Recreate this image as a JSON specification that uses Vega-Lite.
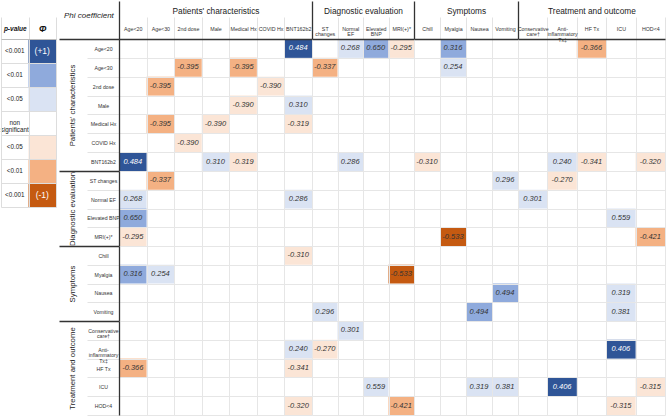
{
"$schema": "https://vega.github.io/schema/vega-lite/v6.json",
"padding": 0,
"config": {"font": "Liberation Sans", "view": {"stroke": null}, "locale": {"number": {"decimal": ".", "thousands": ",", "grouping": [3], "currency": ["$", ""], "minus": "-"}}},
"data": {"values": [
{"r":"Age<20","c":"BNT162b2","phi":0.484,"sig":"+3"},
{"r":"BNT162b2","c":"Age<20","phi":0.484,"sig":"+3"},
{"r":"Age<20","c":"Normal EF","phi":0.268,"sig":"+1"},
{"r":"Normal EF","c":"Age<20","phi":0.268,"sig":"+1"},
{"r":"Age<20","c":"Elevated BNP","phi":0.650,"sig":"+2"},
{"r":"Elevated BNP","c":"Age<20","phi":0.650,"sig":"+2"},
{"r":"Age<20","c":"MRI(+)*","phi":-0.295,"sig":"-1"},
{"r":"MRI(+)*","c":"Age<20","phi":-0.295,"sig":"-1"},
{"r":"Age<20","c":"Myalgia","phi":0.316,"sig":"+2"},
{"r":"Myalgia","c":"Age<20","phi":0.316,"sig":"+2"},
{"r":"Age<20","c":"HF Tx","phi":-0.366,"sig":"-2"},
{"r":"HF Tx","c":"Age<20","phi":-0.366,"sig":"-2"},
{"r":"Age<30","c":"2nd dose","phi":-0.395,"sig":"-2"},
{"r":"2nd dose","c":"Age<30","phi":-0.395,"sig":"-2"},
{"r":"Age<30","c":"Medical Hx","phi":-0.395,"sig":"-2"},
{"r":"Medical Hx","c":"Age<30","phi":-0.395,"sig":"-2"},
{"r":"Age<30","c":"ST changes","phi":-0.337,"sig":"-2"},
{"r":"ST changes","c":"Age<30","phi":-0.337,"sig":"-2"},
{"r":"Age<30","c":"Myalgia","phi":0.254,"sig":"+1"},
{"r":"Myalgia","c":"Age<30","phi":0.254,"sig":"+1"},
{"r":"2nd dose","c":"COVID Hx","phi":-0.390,"sig":"-1"},
{"r":"COVID Hx","c":"2nd dose","phi":-0.390,"sig":"-1"},
{"r":"Male","c":"Medical Hx","phi":-0.390,"sig":"-1"},
{"r":"Medical Hx","c":"Male","phi":-0.390,"sig":"-1"},
{"r":"Male","c":"BNT162b2","phi":0.310,"sig":"+1"},
{"r":"BNT162b2","c":"Male","phi":0.310,"sig":"+1"},
{"r":"Medical Hx","c":"BNT162b2","phi":-0.319,"sig":"-1"},
{"r":"BNT162b2","c":"Medical Hx","phi":-0.319,"sig":"-1"},
{"r":"BNT162b2","c":"Normal EF","phi":0.286,"sig":"+1"},
{"r":"Normal EF","c":"BNT162b2","phi":0.286,"sig":"+1"},
{"r":"BNT162b2","c":"Chill","phi":-0.310,"sig":"-1"},
{"r":"Chill","c":"BNT162b2","phi":-0.310,"sig":"-1"},
{"r":"BNT162b2","c":"Anti-inflammatory Tx‡","phi":0.240,"sig":"+1"},
{"r":"Anti-inflammatory Tx‡","c":"BNT162b2","phi":0.240,"sig":"+1"},
{"r":"BNT162b2","c":"HF Tx","phi":-0.341,"sig":"-1"},
{"r":"HF Tx","c":"BNT162b2","phi":-0.341,"sig":"-1"},
{"r":"BNT162b2","c":"HOD<4","phi":-0.320,"sig":"-1"},
{"r":"HOD<4","c":"BNT162b2","phi":-0.320,"sig":"-1"},
{"r":"ST changes","c":"Vomiting","phi":0.296,"sig":"+1"},
{"r":"Vomiting","c":"ST changes","phi":0.296,"sig":"+1"},
{"r":"ST changes","c":"Anti-inflammatory Tx‡","phi":-0.270,"sig":"-1"},
{"r":"Anti-inflammatory Tx‡","c":"ST changes","phi":-0.270,"sig":"-1"},
{"r":"Normal EF","c":"Conservative care†","phi":0.301,"sig":"+1"},
{"r":"Conservative care†","c":"Normal EF","phi":0.301,"sig":"+1"},
{"r":"Elevated BNP","c":"ICU","phi":0.559,"sig":"+1"},
{"r":"ICU","c":"Elevated BNP","phi":0.559,"sig":"+1"},
{"r":"MRI(+)*","c":"Myalgia","phi":-0.533,"sig":"-3"},
{"r":"Myalgia","c":"MRI(+)*","phi":-0.533,"sig":"-3"},
{"r":"MRI(+)*","c":"HOD<4","phi":-0.421,"sig":"-2"},
{"r":"HOD<4","c":"MRI(+)*","phi":-0.421,"sig":"-2"},
{"r":"Nausea","c":"Vomiting","phi":0.494,"sig":"+2"},
{"r":"Vomiting","c":"Nausea","phi":0.494,"sig":"+2"},
{"r":"Nausea","c":"ICU","phi":0.319,"sig":"+1"},
{"r":"ICU","c":"Nausea","phi":0.319,"sig":"+1"},
{"r":"Vomiting","c":"ICU","phi":0.381,"sig":"+1"},
{"r":"ICU","c":"Vomiting","phi":0.381,"sig":"+1"},
{"r":"Anti-inflammatory Tx‡","c":"ICU","phi":0.406,"sig":"+3"},
{"r":"ICU","c":"Anti-inflammatory Tx‡","phi":0.406,"sig":"+3"},
{"r":"ICU","c":"HOD<4","phi":-0.315,"sig":"-1"},
{"r":"HOD<4","c":"ICU","phi":-0.315,"sig":"-1"}
]},
"spacing": 1,
"hconcat": [
{
 "width": 55,
 "height": 168,
 "data": {"values": [
  {"sig":"+3","pv":"<0.001","sym":"(+1)"},
  {"sig":"+2","pv":"<0.01","sym":""},
  {"sig":"+1","pv":"<0.05","sym":""},
  {"sig":"ns","pv":"non significant","sym":""},
  {"sig":"-1","pv":"<0.05","sym":""},
  {"sig":"-2","pv":"<0.01","sym":""},
  {"sig":"-3","pv":"<0.001","sym":"(-1)"}
 ]},
 "encoding": {
  "y": {"field":"sig","type":"nominal","scale":{"domain":["+3","+2","+1","ns","-1","-2","-3"],"paddingInner":0,"paddingOuter":0},
        "axis":{"orient":"left","labels":false,"ticks":false,"domain":false,"title":null,"grid":true,"gridColor":"#dddddd","tickBand":"extent","minExtent":0,"maxExtent":0}}
 },
 "layer": [
  {"mark":{"type":"rect"},
   "encoding":{
    "x":{"datum":"Φ","type":"nominal","scale":{"domain":["p-value","Φ"],"paddingInner":0,"paddingOuter":0},
         "axis":{"orient":"top","title":null,"labelAngle":0,"labelFontSize":{"condition":{"test":"datum.value == 'Φ'","value":9},"value":6.5},"labelFontWeight":"bold","labelFontStyle":"italic","labelColor":"#111111","labelBaseline":"middle","labelPadding":-11,"tickBand":"extent","tickSize":22,"tickColor":"#dddddd","domainColor":"#bbbbbb","grid":true,"gridColor":"#dddddd","minExtent":22,"maxExtent":22}},
    "color":{"field":"sig","type":"nominal","scale":{"domain":["+3","+2","+1","ns","-1","-2","-3"],"range":["#2f5597","#8faadc","#dae3f3","#ffffff","#fbe5d6","#f4b183","#c55a11"]},"legend":null}}},
  {"mark":{"type":"text","fontSize":6.3,"color":"#222222","lineBreak":" ","lineHeight":6.5},
   "encoding":{"x":{"datum":"p-value","type":"nominal"},"text":{"field":"pv"}}},
  {"mark":{"type":"text","fontSize":8.5,"color":"#ffffff"},
   "encoding":{"x":{"datum":"Φ","type":"nominal"},"text":{"field":"sym"}}}
 ]
},
{
 "columns": 4,
 "spacing": 0,
 "bounds": "flush",
 "concat": [
   {"title":{"text":"Phi coefficient","anchor":"start","frame":"group","dx":-55,"offset":-20,"fontSize":8,"fontStyle":"italic","fontWeight":"normal","color":"#222222"},
    "width":193,"height":132,
    "transform":[{"filter":{"field":"r","oneOf":["Age<20","Age<30","2nd dose","Male","Medical Hx","COVID Hx","BNT162b2"]}},{"filter":{"field":"c","oneOf":["Age<20","Age<30","2nd dose","Male","Medical Hx","COVID Hx","BNT162b2"]}}],
    "encoding":{
     "x":{"field":"c","type":"nominal","scale":{"domain":["Age<20","Age<30","2nd dose","Male","Medical Hx","COVID Hx","BNT162b2"],"paddingInner":0,"paddingOuter":0},
          "axis":{"orient":"top","title":"Patients' characteristics","titleFontSize":8.3,"titleFontWeight":"normal","titleColor":"#222222","titlePadding":2,"labelAngle":0,"labelFontSize":5.3,"labelColor":"#333333","labelBaseline":"middle","labelLineHeight":5.6,"labelOverlap":false,"labelPadding":-11,"labelExpr":"datum.value == 'ST changes' ? ['ST','changes'] : datum.value == 'Normal EF' ? ['Normal','EF'] : datum.value == 'Elevated BNP' ? ['Elevated','BNP'] : datum.value == 'Conservative care†' ? ['Conservative','care†'] : datum.value == 'Anti-inflammatory Tx‡' ? ['Anti-','inflammatory','Tx‡'] : datum.label","tickBand":"extent","tickSize":{"condition":{"test":"datum.extra","value":38},"value":22},"tickColor":{"condition":{"test":"datum.extra","value":"#333333"},"value":"#e3e3e3"},"tickWidth":{"condition":{"test":"datum.extra","value":1.3},"value":1},"domainColor":"#333333","domainWidth":1.3,"grid":true,"gridColor":"#e6e6e6","minExtent":22,"maxExtent":22,"zindex":1}},
     "y":{"field":"r","type":"nominal","scale":{"domain":["Age<20","Age<30","2nd dose","Male","Medical Hx","COVID Hx","BNT162b2"],"paddingInner":0,"paddingOuter":0},
          "axis":{"orient":"left","title":"Patients' characteristics","titleFontSize":7.8,"titleFontWeight":"normal","titleColor":"#222222","titlePadding":11,"labelFontSize":5.2,"labelColor":"#333333","labelAlign":"center","labelBaseline":"middle","labelLineHeight":5.6,"labelOverlap":false,"labelPadding":-16,"labelExpr":"datum.value == 'Conservative care†' ? ['Conservative','care†'] : datum.value == 'Anti-inflammatory Tx‡' ? ['Anti-','inflammatory','Tx‡'] : datum.label","tickBand":"extent","tickSize":{"condition":{"test":"datum.extra","value":60},"value":32},"tickColor":{"condition":{"test":"datum.extra","value":"#333333"},"value":"#e3e3e3"},"tickWidth":{"condition":{"test":"datum.extra","value":1.3},"value":1},"domainColor":"#333333","domainWidth":1.3,"grid":true,"gridColor":"#e6e6e6","minExtent":32,"maxExtent":32,"zindex":1}}
    },
    "layer":[
     {"mark":{"type":"rect"},"encoding":{"color":{"field":"sig","type":"nominal","scale":{"domain":["+3","+2","+1","ns","-1","-2","-3"],"range":["#2f5597","#8faadc","#dae3f3","#ffffff","#fbe5d6","#f4b183","#c55a11"]},"legend":null}}},
     {"mark":{"type":"text","fontSize":7.5,"fontStyle":"italic"},"encoding":{"text":{"field":"phi","type":"quantitative","format":".3f"},"color":{"condition":{"test":"datum.sig == '+3'","value":"#ffffff"},"value":"#333333"}}}
    ]},
   {"width":102,"height":132,
    "transform":[{"filter":{"field":"r","oneOf":["Age<20","Age<30","2nd dose","Male","Medical Hx","COVID Hx","BNT162b2"]}},{"filter":{"field":"c","oneOf":["ST changes","Normal EF","Elevated BNP","MRI(+)*"]}}],
    "encoding":{
     "x":{"field":"c","type":"nominal","scale":{"domain":["ST changes","Normal EF","Elevated BNP","MRI(+)*"],"paddingInner":0,"paddingOuter":0},
          "axis":{"orient":"top","title":"Diagnostic evaluation","titleFontSize":8.3,"titleFontWeight":"normal","titleColor":"#222222","titlePadding":2,"labelAngle":0,"labelFontSize":5.3,"labelColor":"#333333","labelBaseline":"middle","labelLineHeight":5.6,"labelOverlap":false,"labelPadding":-11,"labelExpr":"datum.value == 'ST changes' ? ['ST','changes'] : datum.value == 'Normal EF' ? ['Normal','EF'] : datum.value == 'Elevated BNP' ? ['Elevated','BNP'] : datum.value == 'Conservative care†' ? ['Conservative','care†'] : datum.value == 'Anti-inflammatory Tx‡' ? ['Anti-','inflammatory','Tx‡'] : datum.label","tickBand":"extent","tickSize":{"condition":{"test":"datum.extra","value":38},"value":22},"tickColor":{"condition":{"test":"datum.extra","value":"#333333"},"value":"#e3e3e3"},"tickWidth":{"condition":{"test":"datum.extra","value":1.3},"value":1},"domainColor":"#333333","domainWidth":1.3,"grid":true,"gridColor":"#e6e6e6","minExtent":22,"maxExtent":22,"zindex":1}},
     "y":{"field":"r","type":"nominal","scale":{"domain":["Age<20","Age<30","2nd dose","Male","Medical Hx","COVID Hx","BNT162b2"],"paddingInner":0,"paddingOuter":0},
          "axis":{"orient":"left","labels":false,"ticks":false,"domain":false,"title":null,"grid":true,"gridColor":"#e6e6e6","tickBand":"extent","minExtent":0,"maxExtent":0,"zindex":1}}
    },
    "layer":[
     {"mark":{"type":"rect"},"encoding":{"color":{"field":"sig","type":"nominal","scale":{"domain":["+3","+2","+1","ns","-1","-2","-3"],"range":["#2f5597","#8faadc","#dae3f3","#ffffff","#fbe5d6","#f4b183","#c55a11"]},"legend":null}}},
     {"mark":{"type":"text","fontSize":7.5,"fontStyle":"italic"},"encoding":{"text":{"field":"phi","type":"quantitative","format":".3f"},"color":{"condition":{"test":"datum.sig == '+3'","value":"#ffffff"},"value":"#333333"}}}
    ]},
   {"width":104,"height":132,
    "transform":[{"filter":{"field":"r","oneOf":["Age<20","Age<30","2nd dose","Male","Medical Hx","COVID Hx","BNT162b2"]}},{"filter":{"field":"c","oneOf":["Chill","Myalgia","Nausea","Vomiting"]}}],
    "encoding":{
     "x":{"field":"c","type":"nominal","scale":{"domain":["Chill","Myalgia","Nausea","Vomiting"],"paddingInner":0,"paddingOuter":0},
          "axis":{"orient":"top","title":"Symptoms","titleFontSize":8.3,"titleFontWeight":"normal","titleColor":"#222222","titlePadding":2,"labelAngle":0,"labelFontSize":5.3,"labelColor":"#333333","labelBaseline":"middle","labelLineHeight":5.6,"labelOverlap":false,"labelPadding":-11,"labelExpr":"datum.value == 'ST changes' ? ['ST','changes'] : datum.value == 'Normal EF' ? ['Normal','EF'] : datum.value == 'Elevated BNP' ? ['Elevated','BNP'] : datum.value == 'Conservative care†' ? ['Conservative','care†'] : datum.value == 'Anti-inflammatory Tx‡' ? ['Anti-','inflammatory','Tx‡'] : datum.label","tickBand":"extent","tickSize":{"condition":{"test":"datum.extra","value":38},"value":22},"tickColor":{"condition":{"test":"datum.extra","value":"#333333"},"value":"#e3e3e3"},"tickWidth":{"condition":{"test":"datum.extra","value":1.3},"value":1},"domainColor":"#333333","domainWidth":1.3,"grid":true,"gridColor":"#e6e6e6","minExtent":22,"maxExtent":22,"zindex":1}},
     "y":{"field":"r","type":"nominal","scale":{"domain":["Age<20","Age<30","2nd dose","Male","Medical Hx","COVID Hx","BNT162b2"],"paddingInner":0,"paddingOuter":0},
          "axis":{"orient":"left","labels":false,"ticks":false,"domain":false,"title":null,"grid":true,"gridColor":"#e6e6e6","tickBand":"extent","minExtent":0,"maxExtent":0,"zindex":1}}
    },
    "layer":[
     {"mark":{"type":"rect"},"encoding":{"color":{"field":"sig","type":"nominal","scale":{"domain":["+3","+2","+1","ns","-1","-2","-3"],"range":["#2f5597","#8faadc","#dae3f3","#ffffff","#fbe5d6","#f4b183","#c55a11"]},"legend":null}}},
     {"mark":{"type":"text","fontSize":7.5,"fontStyle":"italic"},"encoding":{"text":{"field":"phi","type":"quantitative","format":".3f"},"color":{"condition":{"test":"datum.sig == '+3'","value":"#ffffff"},"value":"#333333"}}}
    ]},
   {"width":147,"height":132,
    "transform":[{"filter":{"field":"r","oneOf":["Age<20","Age<30","2nd dose","Male","Medical Hx","COVID Hx","BNT162b2"]}},{"filter":{"field":"c","oneOf":["Conservative care†","Anti-inflammatory Tx‡","HF Tx","ICU","HOD<4"]}}],
    "encoding":{
     "x":{"field":"c","type":"nominal","scale":{"domain":["Conservative care†","Anti-inflammatory Tx‡","HF Tx","ICU","HOD<4"],"paddingInner":0,"paddingOuter":0},
          "axis":{"orient":"top","title":"Treatment and outcome","titleFontSize":8.3,"titleFontWeight":"normal","titleColor":"#222222","titlePadding":2,"labelAngle":0,"labelFontSize":5.3,"labelColor":"#333333","labelBaseline":"middle","labelLineHeight":5.6,"labelOverlap":false,"labelPadding":-11,"labelExpr":"datum.value == 'ST changes' ? ['ST','changes'] : datum.value == 'Normal EF' ? ['Normal','EF'] : datum.value == 'Elevated BNP' ? ['Elevated','BNP'] : datum.value == 'Conservative care†' ? ['Conservative','care†'] : datum.value == 'Anti-inflammatory Tx‡' ? ['Anti-','inflammatory','Tx‡'] : datum.label","tickBand":"extent","tickSize":{"condition":{"test":"datum.extra","value":38},"value":22},"tickColor":{"condition":{"test":"datum.extra","value":"#333333"},"value":"#e3e3e3"},"tickWidth":{"condition":{"test":"datum.extra","value":1.3},"value":1},"domainColor":"#333333","domainWidth":1.3,"grid":true,"gridColor":"#e6e6e6","minExtent":22,"maxExtent":22,"zindex":1}},
     "y":{"field":"r","type":"nominal","scale":{"domain":["Age<20","Age<30","2nd dose","Male","Medical Hx","COVID Hx","BNT162b2"],"paddingInner":0,"paddingOuter":0},
          "axis":{"orient":"left","labels":false,"ticks":false,"domain":false,"title":null,"grid":true,"gridColor":"#e6e6e6","tickBand":"extent","minExtent":0,"maxExtent":0,"zindex":1}}
    },
    "layer":[
     {"mark":{"type":"rect"},"encoding":{"color":{"field":"sig","type":"nominal","scale":{"domain":["+3","+2","+1","ns","-1","-2","-3"],"range":["#2f5597","#8faadc","#dae3f3","#ffffff","#fbe5d6","#f4b183","#c55a11"]},"legend":null}}},
     {"mark":{"type":"text","fontSize":7.5,"fontStyle":"italic"},"encoding":{"text":{"field":"phi","type":"quantitative","format":".3f"},"color":{"condition":{"test":"datum.sig == '+3'","value":"#ffffff"},"value":"#333333"}}}
    ]},
   {"width":193,"height":75,
    "transform":[{"filter":{"field":"r","oneOf":["ST changes","Normal EF","Elevated BNP","MRI(+)*"]}},{"filter":{"field":"c","oneOf":["Age<20","Age<30","2nd dose","Male","Medical Hx","COVID Hx","BNT162b2"]}}],
    "encoding":{
     "x":{"field":"c","type":"nominal","scale":{"domain":["Age<20","Age<30","2nd dose","Male","Medical Hx","COVID Hx","BNT162b2"],"paddingInner":0,"paddingOuter":0},
          "axis":{"orient":"top","labels":false,"ticks":false,"domain":false,"title":null,"grid":true,"gridColor":"#e6e6e6","tickBand":"extent","minExtent":0,"maxExtent":0,"zindex":1}},
     "y":{"field":"r","type":"nominal","scale":{"domain":["ST changes","Normal EF","Elevated BNP","MRI(+)*"],"paddingInner":0,"paddingOuter":0},
          "axis":{"orient":"left","title":"Diagnostic evaluation","titleFontSize":7.8,"titleFontWeight":"normal","titleColor":"#222222","titlePadding":11,"labelFontSize":5.2,"labelColor":"#333333","labelAlign":"center","labelBaseline":"middle","labelLineHeight":5.6,"labelOverlap":false,"labelPadding":-16,"labelExpr":"datum.value == 'Conservative care†' ? ['Conservative','care†'] : datum.value == 'Anti-inflammatory Tx‡' ? ['Anti-','inflammatory','Tx‡'] : datum.label","tickBand":"extent","tickSize":{"condition":{"test":"datum.extra","value":60},"value":32},"tickColor":{"condition":{"test":"datum.extra","value":"#333333"},"value":"#e3e3e3"},"tickWidth":{"condition":{"test":"datum.extra","value":1.3},"value":1},"domainColor":"#333333","domainWidth":1.3,"grid":true,"gridColor":"#e6e6e6","minExtent":32,"maxExtent":32,"zindex":1}}
    },
    "layer":[
     {"mark":{"type":"rect"},"encoding":{"color":{"field":"sig","type":"nominal","scale":{"domain":["+3","+2","+1","ns","-1","-2","-3"],"range":["#2f5597","#8faadc","#dae3f3","#ffffff","#fbe5d6","#f4b183","#c55a11"]},"legend":null}}},
     {"mark":{"type":"text","fontSize":7.5,"fontStyle":"italic"},"encoding":{"text":{"field":"phi","type":"quantitative","format":".3f"},"color":{"condition":{"test":"datum.sig == '+3'","value":"#ffffff"},"value":"#333333"}}}
    ]},
   {"width":102,"height":75,
    "transform":[{"filter":{"field":"r","oneOf":["ST changes","Normal EF","Elevated BNP","MRI(+)*"]}},{"filter":{"field":"c","oneOf":["ST changes","Normal EF","Elevated BNP","MRI(+)*"]}}],
    "encoding":{
     "x":{"field":"c","type":"nominal","scale":{"domain":["ST changes","Normal EF","Elevated BNP","MRI(+)*"],"paddingInner":0,"paddingOuter":0},
          "axis":{"orient":"top","labels":false,"ticks":false,"domain":false,"title":null,"grid":true,"gridColor":"#e6e6e6","tickBand":"extent","minExtent":0,"maxExtent":0,"zindex":1}},
     "y":{"field":"r","type":"nominal","scale":{"domain":["ST changes","Normal EF","Elevated BNP","MRI(+)*"],"paddingInner":0,"paddingOuter":0},
          "axis":{"orient":"left","labels":false,"ticks":false,"domain":false,"title":null,"grid":true,"gridColor":"#e6e6e6","tickBand":"extent","minExtent":0,"maxExtent":0,"zindex":1}}
    },
    "layer":[
     {"mark":{"type":"rect"},"encoding":{"color":{"field":"sig","type":"nominal","scale":{"domain":["+3","+2","+1","ns","-1","-2","-3"],"range":["#2f5597","#8faadc","#dae3f3","#ffffff","#fbe5d6","#f4b183","#c55a11"]},"legend":null}}},
     {"mark":{"type":"text","fontSize":7.5,"fontStyle":"italic"},"encoding":{"text":{"field":"phi","type":"quantitative","format":".3f"},"color":{"condition":{"test":"datum.sig == '+3'","value":"#ffffff"},"value":"#333333"}}}
    ]},
   {"width":104,"height":75,
    "transform":[{"filter":{"field":"r","oneOf":["ST changes","Normal EF","Elevated BNP","MRI(+)*"]}},{"filter":{"field":"c","oneOf":["Chill","Myalgia","Nausea","Vomiting"]}}],
    "encoding":{
     "x":{"field":"c","type":"nominal","scale":{"domain":["Chill","Myalgia","Nausea","Vomiting"],"paddingInner":0,"paddingOuter":0},
          "axis":{"orient":"top","labels":false,"ticks":false,"domain":false,"title":null,"grid":true,"gridColor":"#e6e6e6","tickBand":"extent","minExtent":0,"maxExtent":0,"zindex":1}},
     "y":{"field":"r","type":"nominal","scale":{"domain":["ST changes","Normal EF","Elevated BNP","MRI(+)*"],"paddingInner":0,"paddingOuter":0},
          "axis":{"orient":"left","labels":false,"ticks":false,"domain":false,"title":null,"grid":true,"gridColor":"#e6e6e6","tickBand":"extent","minExtent":0,"maxExtent":0,"zindex":1}}
    },
    "layer":[
     {"mark":{"type":"rect"},"encoding":{"color":{"field":"sig","type":"nominal","scale":{"domain":["+3","+2","+1","ns","-1","-2","-3"],"range":["#2f5597","#8faadc","#dae3f3","#ffffff","#fbe5d6","#f4b183","#c55a11"]},"legend":null}}},
     {"mark":{"type":"text","fontSize":7.5,"fontStyle":"italic"},"encoding":{"text":{"field":"phi","type":"quantitative","format":".3f"},"color":{"condition":{"test":"datum.sig == '+3'","value":"#ffffff"},"value":"#333333"}}}
    ]},
   {"width":147,"height":75,
    "transform":[{"filter":{"field":"r","oneOf":["ST changes","Normal EF","Elevated BNP","MRI(+)*"]}},{"filter":{"field":"c","oneOf":["Conservative care†","Anti-inflammatory Tx‡","HF Tx","ICU","HOD<4"]}}],
    "encoding":{
     "x":{"field":"c","type":"nominal","scale":{"domain":["Conservative care†","Anti-inflammatory Tx‡","HF Tx","ICU","HOD<4"],"paddingInner":0,"paddingOuter":0},
          "axis":{"orient":"top","labels":false,"ticks":false,"domain":false,"title":null,"grid":true,"gridColor":"#e6e6e6","tickBand":"extent","minExtent":0,"maxExtent":0,"zindex":1}},
     "y":{"field":"r","type":"nominal","scale":{"domain":["ST changes","Normal EF","Elevated BNP","MRI(+)*"],"paddingInner":0,"paddingOuter":0},
          "axis":{"orient":"left","labels":false,"ticks":false,"domain":false,"title":null,"grid":true,"gridColor":"#e6e6e6","tickBand":"extent","minExtent":0,"maxExtent":0,"zindex":1}}
    },
    "layer":[
     {"mark":{"type":"rect"},"encoding":{"color":{"field":"sig","type":"nominal","scale":{"domain":["+3","+2","+1","ns","-1","-2","-3"],"range":["#2f5597","#8faadc","#dae3f3","#ffffff","#fbe5d6","#f4b183","#c55a11"]},"legend":null}}},
     {"mark":{"type":"text","fontSize":7.5,"fontStyle":"italic"},"encoding":{"text":{"field":"phi","type":"quantitative","format":".3f"},"color":{"condition":{"test":"datum.sig == '+3'","value":"#ffffff"},"value":"#333333"}}}
    ]},
   {"width":193,"height":75,
    "transform":[{"filter":{"field":"r","oneOf":["Chill","Myalgia","Nausea","Vomiting"]}},{"filter":{"field":"c","oneOf":["Age<20","Age<30","2nd dose","Male","Medical Hx","COVID Hx","BNT162b2"]}}],
    "encoding":{
     "x":{"field":"c","type":"nominal","scale":{"domain":["Age<20","Age<30","2nd dose","Male","Medical Hx","COVID Hx","BNT162b2"],"paddingInner":0,"paddingOuter":0},
          "axis":{"orient":"top","labels":false,"ticks":false,"domain":false,"title":null,"grid":true,"gridColor":"#e6e6e6","tickBand":"extent","minExtent":0,"maxExtent":0,"zindex":1}},
     "y":{"field":"r","type":"nominal","scale":{"domain":["Chill","Myalgia","Nausea","Vomiting"],"paddingInner":0,"paddingOuter":0},
          "axis":{"orient":"left","title":"Symptoms","titleFontSize":7.8,"titleFontWeight":"normal","titleColor":"#222222","titlePadding":11,"labelFontSize":5.2,"labelColor":"#333333","labelAlign":"center","labelBaseline":"middle","labelLineHeight":5.6,"labelOverlap":false,"labelPadding":-16,"labelExpr":"datum.value == 'Conservative care†' ? ['Conservative','care†'] : datum.value == 'Anti-inflammatory Tx‡' ? ['Anti-','inflammatory','Tx‡'] : datum.label","tickBand":"extent","tickSize":{"condition":{"test":"datum.extra","value":60},"value":32},"tickColor":{"condition":{"test":"datum.extra","value":"#333333"},"value":"#e3e3e3"},"tickWidth":{"condition":{"test":"datum.extra","value":1.3},"value":1},"domainColor":"#333333","domainWidth":1.3,"grid":true,"gridColor":"#e6e6e6","minExtent":32,"maxExtent":32,"zindex":1}}
    },
    "layer":[
     {"mark":{"type":"rect"},"encoding":{"color":{"field":"sig","type":"nominal","scale":{"domain":["+3","+2","+1","ns","-1","-2","-3"],"range":["#2f5597","#8faadc","#dae3f3","#ffffff","#fbe5d6","#f4b183","#c55a11"]},"legend":null}}},
     {"mark":{"type":"text","fontSize":7.5,"fontStyle":"italic"},"encoding":{"text":{"field":"phi","type":"quantitative","format":".3f"},"color":{"condition":{"test":"datum.sig == '+3'","value":"#ffffff"},"value":"#333333"}}}
    ]},
   {"width":102,"height":75,
    "transform":[{"filter":{"field":"r","oneOf":["Chill","Myalgia","Nausea","Vomiting"]}},{"filter":{"field":"c","oneOf":["ST changes","Normal EF","Elevated BNP","MRI(+)*"]}}],
    "encoding":{
     "x":{"field":"c","type":"nominal","scale":{"domain":["ST changes","Normal EF","Elevated BNP","MRI(+)*"],"paddingInner":0,"paddingOuter":0},
          "axis":{"orient":"top","labels":false,"ticks":false,"domain":false,"title":null,"grid":true,"gridColor":"#e6e6e6","tickBand":"extent","minExtent":0,"maxExtent":0,"zindex":1}},
     "y":{"field":"r","type":"nominal","scale":{"domain":["Chill","Myalgia","Nausea","Vomiting"],"paddingInner":0,"paddingOuter":0},
          "axis":{"orient":"left","labels":false,"ticks":false,"domain":false,"title":null,"grid":true,"gridColor":"#e6e6e6","tickBand":"extent","minExtent":0,"maxExtent":0,"zindex":1}}
    },
    "layer":[
     {"mark":{"type":"rect"},"encoding":{"color":{"field":"sig","type":"nominal","scale":{"domain":["+3","+2","+1","ns","-1","-2","-3"],"range":["#2f5597","#8faadc","#dae3f3","#ffffff","#fbe5d6","#f4b183","#c55a11"]},"legend":null}}},
     {"mark":{"type":"text","fontSize":7.5,"fontStyle":"italic"},"encoding":{"text":{"field":"phi","type":"quantitative","format":".3f"},"color":{"condition":{"test":"datum.sig == '+3'","value":"#ffffff"},"value":"#333333"}}}
    ]},
   {"width":104,"height":75,
    "transform":[{"filter":{"field":"r","oneOf":["Chill","Myalgia","Nausea","Vomiting"]}},{"filter":{"field":"c","oneOf":["Chill","Myalgia","Nausea","Vomiting"]}}],
    "encoding":{
     "x":{"field":"c","type":"nominal","scale":{"domain":["Chill","Myalgia","Nausea","Vomiting"],"paddingInner":0,"paddingOuter":0},
          "axis":{"orient":"top","labels":false,"ticks":false,"domain":false,"title":null,"grid":true,"gridColor":"#e6e6e6","tickBand":"extent","minExtent":0,"maxExtent":0,"zindex":1}},
     "y":{"field":"r","type":"nominal","scale":{"domain":["Chill","Myalgia","Nausea","Vomiting"],"paddingInner":0,"paddingOuter":0},
          "axis":{"orient":"left","labels":false,"ticks":false,"domain":false,"title":null,"grid":true,"gridColor":"#e6e6e6","tickBand":"extent","minExtent":0,"maxExtent":0,"zindex":1}}
    },
    "layer":[
     {"mark":{"type":"rect"},"encoding":{"color":{"field":"sig","type":"nominal","scale":{"domain":["+3","+2","+1","ns","-1","-2","-3"],"range":["#2f5597","#8faadc","#dae3f3","#ffffff","#fbe5d6","#f4b183","#c55a11"]},"legend":null}}},
     {"mark":{"type":"text","fontSize":7.5,"fontStyle":"italic"},"encoding":{"text":{"field":"phi","type":"quantitative","format":".3f"},"color":{"condition":{"test":"datum.sig == '+3'","value":"#ffffff"},"value":"#333333"}}}
    ]},
   {"width":147,"height":75,
    "transform":[{"filter":{"field":"r","oneOf":["Chill","Myalgia","Nausea","Vomiting"]}},{"filter":{"field":"c","oneOf":["Conservative care†","Anti-inflammatory Tx‡","HF Tx","ICU","HOD<4"]}}],
    "encoding":{
     "x":{"field":"c","type":"nominal","scale":{"domain":["Conservative care†","Anti-inflammatory Tx‡","HF Tx","ICU","HOD<4"],"paddingInner":0,"paddingOuter":0},
          "axis":{"orient":"top","labels":false,"ticks":false,"domain":false,"title":null,"grid":true,"gridColor":"#e6e6e6","tickBand":"extent","minExtent":0,"maxExtent":0,"zindex":1}},
     "y":{"field":"r","type":"nominal","scale":{"domain":["Chill","Myalgia","Nausea","Vomiting"],"paddingInner":0,"paddingOuter":0},
          "axis":{"orient":"left","labels":false,"ticks":false,"domain":false,"title":null,"grid":true,"gridColor":"#e6e6e6","tickBand":"extent","minExtent":0,"maxExtent":0,"zindex":1}}
    },
    "layer":[
     {"mark":{"type":"rect"},"encoding":{"color":{"field":"sig","type":"nominal","scale":{"domain":["+3","+2","+1","ns","-1","-2","-3"],"range":["#2f5597","#8faadc","#dae3f3","#ffffff","#fbe5d6","#f4b183","#c55a11"]},"legend":null}}},
     {"mark":{"type":"text","fontSize":7.5,"fontStyle":"italic"},"encoding":{"text":{"field":"phi","type":"quantitative","format":".3f"},"color":{"condition":{"test":"datum.sig == '+3'","value":"#ffffff"},"value":"#333333"}}}
    ]},
   {"width":193,"height":94,
    "transform":[{"filter":{"field":"r","oneOf":["Conservative care†","Anti-inflammatory Tx‡","HF Tx","ICU","HOD<4"]}},{"filter":{"field":"c","oneOf":["Age<20","Age<30","2nd dose","Male","Medical Hx","COVID Hx","BNT162b2"]}}],
    "encoding":{
     "x":{"field":"c","type":"nominal","scale":{"domain":["Age<20","Age<30","2nd dose","Male","Medical Hx","COVID Hx","BNT162b2"],"paddingInner":0,"paddingOuter":0},
          "axis":{"orient":"top","labels":false,"ticks":false,"domain":false,"title":null,"grid":true,"gridColor":"#e6e6e6","tickBand":"extent","minExtent":0,"maxExtent":0,"zindex":1}},
     "y":{"field":"r","type":"nominal","scale":{"domain":["Conservative care†","Anti-inflammatory Tx‡","HF Tx","ICU","HOD<4"],"paddingInner":0,"paddingOuter":0},
          "axis":{"orient":"left","title":"Treatment and outcome","titleFontSize":7.8,"titleFontWeight":"normal","titleColor":"#222222","titlePadding":11,"labelFontSize":5.2,"labelColor":"#333333","labelAlign":"center","labelBaseline":"middle","labelLineHeight":5.6,"labelOverlap":false,"labelPadding":-16,"labelExpr":"datum.value == 'Conservative care†' ? ['Conservative','care†'] : datum.value == 'Anti-inflammatory Tx‡' ? ['Anti-','inflammatory','Tx‡'] : datum.label","tickBand":"extent","tickSize":{"condition":{"test":"datum.extra","value":60},"value":32},"tickColor":{"condition":{"test":"datum.extra","value":"#333333"},"value":"#e3e3e3"},"tickWidth":{"condition":{"test":"datum.extra","value":1.3},"value":1},"domainColor":"#333333","domainWidth":1.3,"grid":true,"gridColor":"#e6e6e6","minExtent":32,"maxExtent":32,"zindex":1}}
    },
    "layer":[
     {"mark":{"type":"rect"},"encoding":{"color":{"field":"sig","type":"nominal","scale":{"domain":["+3","+2","+1","ns","-1","-2","-3"],"range":["#2f5597","#8faadc","#dae3f3","#ffffff","#fbe5d6","#f4b183","#c55a11"]},"legend":null}}},
     {"mark":{"type":"text","fontSize":7.5,"fontStyle":"italic"},"encoding":{"text":{"field":"phi","type":"quantitative","format":".3f"},"color":{"condition":{"test":"datum.sig == '+3'","value":"#ffffff"},"value":"#333333"}}}
    ]},
   {"width":102,"height":94,
    "transform":[{"filter":{"field":"r","oneOf":["Conservative care†","Anti-inflammatory Tx‡","HF Tx","ICU","HOD<4"]}},{"filter":{"field":"c","oneOf":["ST changes","Normal EF","Elevated BNP","MRI(+)*"]}}],
    "encoding":{
     "x":{"field":"c","type":"nominal","scale":{"domain":["ST changes","Normal EF","Elevated BNP","MRI(+)*"],"paddingInner":0,"paddingOuter":0},
          "axis":{"orient":"top","labels":false,"ticks":false,"domain":false,"title":null,"grid":true,"gridColor":"#e6e6e6","tickBand":"extent","minExtent":0,"maxExtent":0,"zindex":1}},
     "y":{"field":"r","type":"nominal","scale":{"domain":["Conservative care†","Anti-inflammatory Tx‡","HF Tx","ICU","HOD<4"],"paddingInner":0,"paddingOuter":0},
          "axis":{"orient":"left","labels":false,"ticks":false,"domain":false,"title":null,"grid":true,"gridColor":"#e6e6e6","tickBand":"extent","minExtent":0,"maxExtent":0,"zindex":1}}
    },
    "layer":[
     {"mark":{"type":"rect"},"encoding":{"color":{"field":"sig","type":"nominal","scale":{"domain":["+3","+2","+1","ns","-1","-2","-3"],"range":["#2f5597","#8faadc","#dae3f3","#ffffff","#fbe5d6","#f4b183","#c55a11"]},"legend":null}}},
     {"mark":{"type":"text","fontSize":7.5,"fontStyle":"italic"},"encoding":{"text":{"field":"phi","type":"quantitative","format":".3f"},"color":{"condition":{"test":"datum.sig == '+3'","value":"#ffffff"},"value":"#333333"}}}
    ]},
   {"width":104,"height":94,
    "transform":[{"filter":{"field":"r","oneOf":["Conservative care†","Anti-inflammatory Tx‡","HF Tx","ICU","HOD<4"]}},{"filter":{"field":"c","oneOf":["Chill","Myalgia","Nausea","Vomiting"]}}],
    "encoding":{
     "x":{"field":"c","type":"nominal","scale":{"domain":["Chill","Myalgia","Nausea","Vomiting"],"paddingInner":0,"paddingOuter":0},
          "axis":{"orient":"top","labels":false,"ticks":false,"domain":false,"title":null,"grid":true,"gridColor":"#e6e6e6","tickBand":"extent","minExtent":0,"maxExtent":0,"zindex":1}},
     "y":{"field":"r","type":"nominal","scale":{"domain":["Conservative care†","Anti-inflammatory Tx‡","HF Tx","ICU","HOD<4"],"paddingInner":0,"paddingOuter":0},
          "axis":{"orient":"left","labels":false,"ticks":false,"domain":false,"title":null,"grid":true,"gridColor":"#e6e6e6","tickBand":"extent","minExtent":0,"maxExtent":0,"zindex":1}}
    },
    "layer":[
     {"mark":{"type":"rect"},"encoding":{"color":{"field":"sig","type":"nominal","scale":{"domain":["+3","+2","+1","ns","-1","-2","-3"],"range":["#2f5597","#8faadc","#dae3f3","#ffffff","#fbe5d6","#f4b183","#c55a11"]},"legend":null}}},
     {"mark":{"type":"text","fontSize":7.5,"fontStyle":"italic"},"encoding":{"text":{"field":"phi","type":"quantitative","format":".3f"},"color":{"condition":{"test":"datum.sig == '+3'","value":"#ffffff"},"value":"#333333"}}}
    ]},
   {"width":147,"height":94,
    "transform":[{"filter":{"field":"r","oneOf":["Conservative care†","Anti-inflammatory Tx‡","HF Tx","ICU","HOD<4"]}},{"filter":{"field":"c","oneOf":["Conservative care†","Anti-inflammatory Tx‡","HF Tx","ICU","HOD<4"]}}],
    "encoding":{
     "x":{"field":"c","type":"nominal","scale":{"domain":["Conservative care†","Anti-inflammatory Tx‡","HF Tx","ICU","HOD<4"],"paddingInner":0,"paddingOuter":0},
          "axis":{"orient":"top","labels":false,"ticks":false,"domain":false,"title":null,"grid":true,"gridColor":"#e6e6e6","tickBand":"extent","minExtent":0,"maxExtent":0,"zindex":1}},
     "y":{"field":"r","type":"nominal","scale":{"domain":["Conservative care†","Anti-inflammatory Tx‡","HF Tx","ICU","HOD<4"],"paddingInner":0,"paddingOuter":0},
          "axis":{"orient":"left","labels":false,"ticks":false,"domain":false,"title":null,"grid":true,"gridColor":"#e6e6e6","tickBand":"extent","minExtent":0,"maxExtent":0,"zindex":1}}
    },
    "layer":[
     {"mark":{"type":"rect"},"encoding":{"color":{"field":"sig","type":"nominal","scale":{"domain":["+3","+2","+1","ns","-1","-2","-3"],"range":["#2f5597","#8faadc","#dae3f3","#ffffff","#fbe5d6","#f4b183","#c55a11"]},"legend":null}}},
     {"mark":{"type":"text","fontSize":7.5,"fontStyle":"italic"},"encoding":{"text":{"field":"phi","type":"quantitative","format":".3f"},"color":{"condition":{"test":"datum.sig == '+3'","value":"#ffffff"},"value":"#333333"}}}
    ]}
 ]
}
]
}
